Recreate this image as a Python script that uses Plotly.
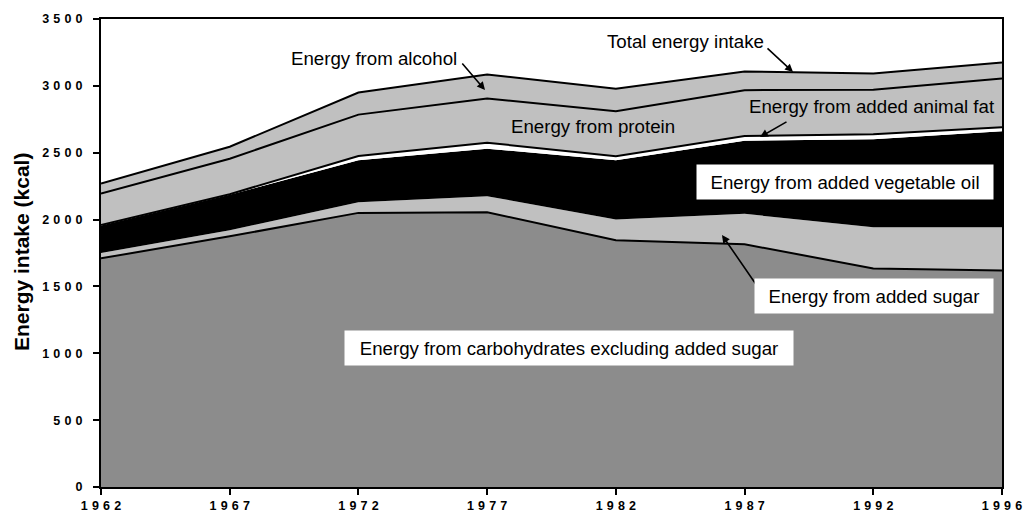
import plotly.graph_objects as go

years = ["1962", "1967", "1972", "1977", "1982", "1987", "1992", "1996"]
carbohydrates = [1710, 1875, 2050, 2055, 1845, 1815, 1635, 1620]
added_sugar = [40, 45, 80, 120, 155, 228, 308, 323]
vegetable_oil = [205, 265, 313, 355, 443, 547, 657, 717]
animal_fat = [5, 5, 32, 45, 30, 35, 38, 30]
protein = [235, 265, 310, 330, 337, 343, 332, 365]
alcohol = [75, 90, 165, 180, 168, 140, 123, 120]

y_ticks = [0, 500, 1000, 1500, 2000, 2500, 3000, 3500]

FONT = "Arial, Liberation Sans, sans-serif"
DARK = "#8c8c8c"
LIGHT = "#c0c0c0"

fig = go.Figure()
layers = [
    ("Energy from carbohydrates excluding added sugar", carbohydrates, DARK, 2),
    ("Energy from added sugar", added_sugar, LIGHT, 0),
    ("Energy from added vegetable oil", vegetable_oil, "#000000", 0),
    ("Energy from added animal fat", animal_fat, "#ffffff", 2),
    ("Energy from protein", protein, LIGHT, 2),
    ("Energy from alcohol", alcohol, LIGHT, 2),
]
for name, vals, col, lw in layers:
    fig.add_trace(go.Scatter(
        x=years, y=vals, name=name, mode="lines", stackgroup="one",
        fillcolor=col, line=dict(color="#000000", width=lw),
        hoverinfo="skip",
    ))

# page body margin offset (browser default 8px)
OFF = 8
FW, FH = 1031 - 2 * OFF, 522 - 2 * OFF
# plot area in window pixels
L, R, T, B = 101, 1002, 19, 487
W, H = R - L, B - T


def px(x):
    return (x - L) / W


def py(y):
    return (B - y) / H


ann = []
# arrows
for hx, hy, tx, ty in [(485, 90, 461, 62), (793, 72, 766, 47),
                       (760, 137, 788, 121), (722, 235, 764, 296)]:
    ann.append(dict(xref="paper", yref="paper", x=px(hx), y=py(hy),
                    ax=tx - hx, ay=ty - hy, text="", showarrow=True,
                    arrowhead=2, arrowsize=1, arrowwidth=1.6,
                    arrowcolor="#000000", standoff=0))

tf = dict(family=FONT, size=18.7, color="#000000")
# plain labels
for text, x, y, anchor in [("Energy from alcohol", 458, 58, "right"),
                           ("Total energy intake", 606, 41, "left"),
                           ("Energy from protein", 510, 127, "left"),
                           ("Energy from added animal fat", 748, 106, "left")]:
    ann.append(dict(xref="paper", yref="paper", x=px(x), y=py(y), text=text,
                    showarrow=False, xanchor=anchor, yanchor="middle", font=tf,
                    borderpad=0))
# boxed labels
for text, cx, cy, w in [("Energy from added vegetable oil", 845, 182, 296),
                        ("Energy from added sugar", 874, 296, 238),
                        ("Energy from carbohydrates excluding added sugar", 569, 348, 448)]:
    ann.append(dict(xref="paper", yref="paper", x=px(cx), y=py(cy), text=text,
                    showarrow=False, xanchor="center", yanchor="middle", font=tf,
                    bgcolor="#ffffff", width=w, height=34, borderpad=0))

# y-axis title as an annotation for exact placement
ann.append(dict(xref="paper", yref="paper", x=px(21), y=py(252),
                text="Energy intake (kcal)", showarrow=False, textangle=-90,
                xanchor="center", yanchor="middle",
                font=dict(family=FONT, size=21, color="#000000", weight="bold")))

fig.update_layout(
    width=FW, height=FH,
    margin=dict(l=L - OFF, r=OFF + FW - R, t=T - OFF, b=OFF + FH - B,
                autoexpand=False),
    paper_bgcolor="#ffffff", plot_bgcolor="#ffffff",
    showlegend=False,
    font=dict(family=FONT, color="#000000"),
    annotations=ann,
)
fig.update_xaxes(
    type="category", range=[0, len(years) - 1], automargin=False,
    tickvals=years, ticktext=["\u2004".join(y) for y in years],
    ticks="outside", ticklen=6, tickwidth=2, tickcolor="#000000",
    showline=True, linewidth=2, linecolor="#000000", mirror=True,
    showgrid=False, zeroline=False, ticklabelstandoff=0,
    tickfont=dict(family=FONT, size=12.5, color="#000000", weight="bold"),
)
fig.update_yaxes(
    range=[0, 3500], tickvals=y_ticks, automargin=False,
    ticktext=["\u2004".join(str(v)) for v in y_ticks],
    ticks="outside", ticklen=6, tickwidth=2, tickcolor="#000000",
    showline=True, linewidth=2, linecolor="#000000", mirror=True,
    showgrid=False, zeroline=False, ticklabelstandoff=8,
    tickfont=dict(family=FONT, size=12.5, color="#000000", weight="bold"),
)

fig.write_html("out.html")
